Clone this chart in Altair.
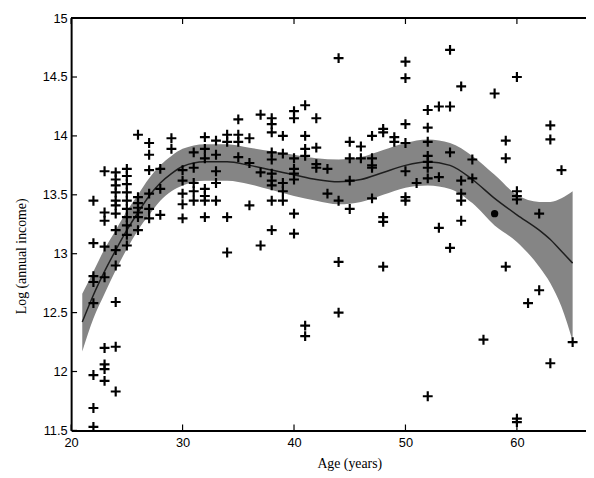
import altair as alt
import pandas as pd

# ---- scatter data (age, log annual income) ----
ages_pts = {
    22: [13.45, 13.09, 12.81, 12.76, 12.58, 11.97, 11.69, 11.53],
    23: [13.70, 13.35, 13.28, 13.06, 12.80, 12.20, 12.06, 12.02, 11.92],
    24: [13.69, 13.63, 13.58, 13.52, 13.45, 13.41, 13.34, 13.20, 13.03, 12.90, 12.59, 12.21, 11.83],
    25: [13.72, 13.66, 13.59, 13.52, 13.45, 13.38, 13.31, 13.24, 13.16, 13.07],
    26: [14.01, 13.48, 13.43, 13.39, 13.35, 13.31, 13.20],
    27: [13.94, 13.84, 13.71, 13.51, 13.38, 13.30],
    28: [13.72, 13.55, 13.33],
    29: [13.98, 13.89],
    30: [13.71, 13.62, 13.51, 13.42, 13.30],
    31: [13.86, 13.73, 13.60, 13.53, 13.45],
    32: [13.99, 13.89, 13.81, 13.55, 13.49, 13.45, 13.31],
    33: [13.96, 13.84, 13.70, 13.60, 13.45],
    34: [14.01, 13.95, 13.31, 13.01],
    35: [14.14, 14.01, 13.95, 13.82],
    36: [13.98, 13.77, 13.41],
    37: [14.18, 13.69, 13.07],
    38: [14.15, 14.10, 14.03, 13.86, 13.80, 13.68, 13.62, 13.58, 13.45, 13.20],
    39: [14.00, 13.85, 13.60, 13.53, 13.45],
    40: [14.21, 14.15, 13.81, 13.72, 13.68, 13.63, 13.34, 13.17],
    41: [14.26, 14.00, 13.89, 13.83, 12.39, 12.30],
    42: [14.15, 13.90, 13.76, 13.73],
    43: [13.72, 13.51],
    44: [14.66, 13.45, 12.93, 12.50],
    45: [13.95, 13.81, 13.62, 13.38],
    46: [13.91, 13.81],
    47: [14.00, 13.81, 13.75, 13.73, 13.47],
    48: [14.06, 14.03, 13.31, 13.27, 12.89],
    49: [13.99, 13.95],
    50: [14.63, 14.49, 14.10, 13.94, 13.70, 13.48, 13.45],
    51: [13.60],
    52: [14.22, 14.07, 13.95, 13.83, 13.78, 13.73, 13.64, 11.79],
    53: [14.25, 13.65, 13.22],
    54: [14.73, 14.25, 13.86, 13.05],
    55: [14.42, 13.62, 13.51, 13.45, 13.28],
    56: [13.80, 13.64],
    57: [12.27],
    58: [14.36],
    59: [13.96, 13.81, 12.89],
    60: [14.50, 13.53, 13.49, 13.46, 11.60, 11.57],
    61: [12.58],
    62: [13.34, 12.69],
    63: [14.09, 13.97, 12.07],
    64: [13.71],
    65: [12.25],
}
dot_age = [58]
dot_val = [13.34]

# ---- fitted curve with confidence band ----
fit_age = [21, 22, 23, 24, 25, 26, 27, 28, 29, 30, 32, 34, 36, 38, 40, 42, 44, 46, 48,
           50, 52, 54, 56, 58, 60, 62, 63, 64, 65]
fit_mean = [12.42, 12.65, 12.85, 13.03, 13.20, 13.35, 13.49, 13.60, 13.68, 13.74, 13.78, 13.78,
            13.75, 13.71, 13.67, 13.63, 13.61, 13.63, 13.69, 13.75, 13.78, 13.75, 13.63, 13.47,
            13.33, 13.20, 13.12, 13.02, 12.92]
fit_low = [12.17, 12.45, 12.66, 12.86, 13.04, 13.20, 13.33, 13.45, 13.53, 13.58, 13.62, 13.62,
           13.59, 13.54, 13.49, 13.45, 13.42, 13.44, 13.50, 13.56, 13.58, 13.55, 13.43, 13.24,
           13.10, 12.89, 12.75, 12.55, 12.26]
fit_high = [12.66, 12.85, 13.04, 13.20, 13.36, 13.50, 13.64, 13.75, 13.83, 13.89, 13.93, 13.93,
            13.90, 13.87, 13.84, 13.81, 13.80, 13.82, 13.88, 13.94, 13.97, 13.94, 13.83, 13.67,
            13.50, 13.44, 13.44, 13.47, 13.53]

x_ticks = [20, 30, 40, 50, 60]
y_ticks = [11.5, 12, 12.5, 13, 13.5, 14, 14.5, 15]

X_DOMAIN = [20, 66.2]
Y_DOMAIN = [11.5, 15]
W, H = 522, 418

pts = pd.DataFrame([(a, v) for a, vs in ages_pts.items() for v in vs], columns=["age", "inc"])
fit = pd.DataFrame({"age": fit_age, "mean": fit_mean, "low": fit_low, "high": fit_high})
dots = pd.DataFrame({"age": dot_age, "inc": dot_val})
xt = pd.DataFrame({"v": x_ticks})
yt = pd.DataFrame({"v": y_ticks})

xs = alt.Scale(domain=X_DOMAIN, nice=False, zero=False)
ys = alt.Scale(domain=Y_DOMAIN, nice=False, zero=False)

x_axis = alt.Axis(values=x_ticks, ticks=False, grid=False, domain=True, domainColor="black",
                  domainWidth=2, labelFont="Liberation Sans", labelFontSize=13, labelColor="black",
                  labelPadding=6, labelFlush=False, labelOverlap=False,
                  title="Age (years)", titleFont="Liberation Serif", titleFontSize=14,
                  titleFontWeight="normal", titleColor="black", titleX=282, titleY=34,
                  titleBaseline="middle", titleAnchor="middle")
y_axis = alt.Axis(values=y_ticks, ticks=False, grid=False, domain=True, domainColor="black",
                  domainWidth=2, labelFont="Liberation Sans", labelFontSize=13, labelColor="black",
                  labelPadding=4, labelFlush=False, labelOverlap=False, format="~g",
                  title="Log (annual income)", titleFont="Liberation Serif", titleFontSize=14,
                  titleFontWeight="normal", titleColor="black", titleX=-50, titleY=241,
                  titleBaseline="middle", titleAngle=-90, titleAnchor="middle")

band = alt.Chart(fit).mark_area(color="#858585", opacity=1, interpolate="monotone").encode(
    x=alt.X("age:Q", scale=xs, axis=x_axis),
    y=alt.Y("low:Q", scale=ys, axis=y_axis),
    y2="high:Q",
)
line = alt.Chart(fit).mark_line(color="#1e1e1e", strokeWidth=1.5, interpolate="monotone").encode(
    x=alt.X("age:Q", scale=xs), y=alt.Y("mean:Q", scale=ys)
)
plus = alt.Chart(pts).mark_point(
    shape="M-1,0L1,0M0,-1L0,1", size=100, strokeWidth=2.2, color="black", filled=False, opacity=1
).encode(x=alt.X("age:Q", scale=xs), y=alt.Y("inc:Q", scale=ys))
dot = alt.Chart(dots).mark_circle(size=55, color="black", opacity=1).encode(
    x=alt.X("age:Q", scale=xs), y=alt.Y("inc:Q", scale=ys)
)

top_border = alt.Chart(xt).mark_rule(color="black", strokeWidth=2).encode(
    x=alt.datum(X_DOMAIN[0], scale=xs), x2=alt.datum(X_DOMAIN[1]), y=alt.value(0)
)
xt_bottom = alt.Chart(xt).mark_rule(color="black", strokeWidth=1.2).encode(
    x=alt.X("v:Q", scale=xs), y=alt.value(H), y2=alt.value(H - 6)
)
xt_top = alt.Chart(xt).mark_rule(color="black", strokeWidth=1.2).encode(
    x=alt.X("v:Q", scale=xs), y=alt.value(0), y2=alt.value(6)
)
yt_left = alt.Chart(yt).mark_rule(color="black", strokeWidth=1.2).encode(
    y=alt.Y("v:Q", scale=ys), x=alt.value(0), x2=alt.value(6)
)

chart = alt.layer(band, line, plus, dot, top_border, xt_bottom, xt_top, yt_left).properties(
    width=W, height=H,
    autosize=alt.AutoSizeParams(type="none"),
    padding={"left": 64, "top": 7, "right": 0, "bottom": 45},
    background="white",
).configure_view(strokeWidth=0)

chart.save("out.html", embed_options={"renderer": "svg", "actions": False})
